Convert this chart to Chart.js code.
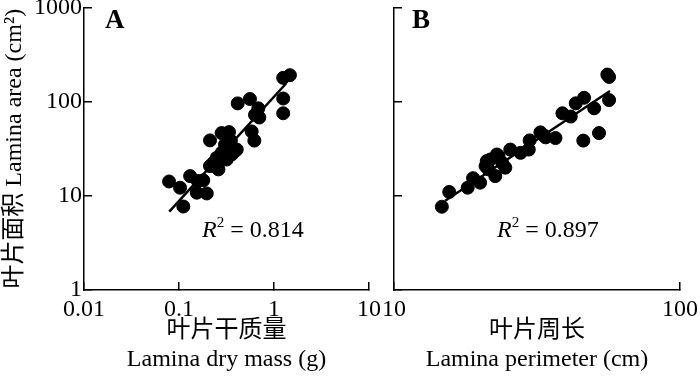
<!DOCTYPE html>
<html>
<head>
<meta charset="utf-8">
<script src="https://cdn.jsdelivr.net/npm/chart.js@4.4.1/dist/chart.umd.min.js"></script>
<style>
  body { margin: 0; background: #fff; }
  #wrap { position: relative; width: 700px; height: 376px; overflow: hidden; }
  canvas { position: absolute; top: 0; }
</style>
</head>
<body>
<div id="wrap">
  <canvas id="chartA" width="392" height="376" style="left:0"></canvas>
  <canvas id="chartB" width="330" height="376" style="left:370px"></canvas>
</div>
<script>
// panel A: lamina dry mass (g) vs lamina area (cm2)
const massA = [0.0786, 0.1026, 0.131, 0.111, 0.154, 0.196, 0.18, 0.157, 0.212, 0.26,
  0.249, 0.281, 0.318, 0.359, 0.405, 0.344, 0.305, 0.212, 0.281, 0.336,
  0.352, 0.582, 0.621, 0.415, 0.558, 0.684, 0.631, 0.70, 1.25, 1.25,
  1.25, 1.47, 0.27, 0.23, 0.388];
const areaA = [14.2, 12.2, 16.2, 7.7, 10.8, 10.6, 14.6, 14.4, 20.7, 19.1,
  25.3, 28.6, 24.3, 27.5, 31, 33.6, 35, 38.8, 46.4, 47.5,
  38.6, 48.3, 38.6, 95.9, 106.7, 85, 72.4, 67.9, 108, 75.3,
  179, 191, 23.4, 22.4, 29.8];
const fitA = [[0.079, 6.8], [1.34, 156]];

// panel B: lamina perimeter (cm) vs lamina area (cm2)
const perimB = [14.7, 15.6, 18.1, 18.9, 20.0, 20.9, 21.7, 22.6, 23.2, 24.5,
  23.9, 21.4, 25.5, 27.7, 29.6, 29.8, 32.5, 33.9, 56.5, 55.7,
  56.5, 50.1, 46.2, 43.2, 38.8, 41.5, 33.4, 36.7, 45.9, 52.1,
  22.9, 21.1];
const areaB = [7.66, 11.0, 12.2, 15.4, 13.8, 20.7, 24.3, 16.2, 26.4, 19.9,
  22.4, 19.1, 31, 28.6, 31, 38.8, 47.2, 41.8, 183, 194,
  104, 85, 110, 96, 75.3, 69.5, 43.9, 41.1, 38.6, 46.4,
  27.5, 23.4];
const fitB = [[15.1, 8.85], [56.9, 129.6]];

const yTicks = [1, 10, 100, 1000];
const xTicksA = [0.01, 0.1, 1, 10];
const xTicksB = [10, 100];

const SERIF = "'Liberation Serif', 'Times New Roman', 'Noto Sans CJK SC', serif";

function pts(xs, ys) {
  return xs.map((x, i) => ({ x: x, y: ys[i] }));
}

function setTicks(values) {
  return (scale) => {
    scale.ticks = values.map((v) => ({ value: v }));
  };
}

function noPad(scale) {
  scale.paddingTop = 0;
  scale.paddingBottom = 0;
  scale.paddingLeft = 0;
  scale.paddingRight = 0;
}

// R² note and panel letter
const notes = {
  id: "notes",
  afterDraw(chart, args, opts) {
    const ctx = chart.ctx;
    ctx.save();
    ctx.fillStyle = "#000";
    ctx.textBaseline = "alphabetic";
    ctx.font = "bold 27px " + SERIF;
    ctx.fillText(opts.letter, opts.letterX, 28);
    let x = opts.rX;
    const y = 237;
    ctx.font = "italic 24px " + SERIF;
    ctx.fillText("R", x, y);
    x += ctx.measureText("R").width;
    ctx.font = "15px " + SERIF;
    ctx.fillText("2", x, y - 10);
    x += ctx.measureText("2").width;
    ctx.font = "24px " + SERIF;
    ctx.fillText(" = " + opts.r2, x, y);
    ctx.restore();
  },
};

function makeChart(id, xs, ys, fit, xMin, xMax, xTicks, cfg) {
  return new Chart(document.getElementById(id), {
    type: "scatter",
    data: {
      datasets: [
        {
          data: pts(xs, ys),
          backgroundColor: "#000",
          borderColor: "#000",
          pointRadius: 6.5,
          pointHoverRadius: 6.5,
          order: 2,
        },
        {
          data: fit.map((p) => ({ x: p[0], y: p[1] })),
          showLine: true,
          borderColor: "#000",
          borderWidth: 2.5,
          pointRadius: 0,
          order: 1,
        },
      ],
    },
    options: {
      responsive: false,
      animation: false,
      layout: { padding: { top: 6, right: cfg.padRight, left: 0, bottom: 0 } },
      plugins: {
        legend: { display: false },
        tooltip: { enabled: false },
        notes: cfg.notes,
      },
      scales: {
        x: {
          type: "logarithmic",
          min: xMin,
          max: xMax,
          afterBuildTicks: setTicks(xTicks),
          afterFit: (s) => { s.height = 86; noPad(s); },
          border: { display: true, color: "#000", width: 1.5 },
          grid: { drawOnChartArea: false, drawTicks: true, tickLength: -8, color: "#000", lineWidth: 1.5 },
          ticks: {
            padding: 13,
            maxRotation: 0,
            autoSkip: false,
            color: "#000",
            font: { family: SERIF, size: 24 },
            callback: (v) => String(v),
          },
          title: {
            display: true,
            text: cfg.xTitle,
            color: "#000",
            font: { family: SERIF, size: 24, lineHeight: 29 / 24 },
            padding: { top: 0, bottom: 2 },
          },
        },
        y: {
          type: "logarithmic",
          min: 1,
          max: 1000,
          afterBuildTicks: setTicks(yTicks),
          afterFit: (s) => { s.width = cfg.yWidth; noPad(s); },
          border: { display: true, color: "#000", width: 1.5 },
          grid: { drawOnChartArea: false, drawTicks: true, tickLength: -8, color: "#000", lineWidth: 1.5 },
          ticks: {
            padding: 10,
            autoSkip: false,
            color: "#000",
            font: { family: SERIF, size: 24 },
            callback: cfg.yLabels ? (v) => String(v) : () => "",
          },
          title: {
            display: cfg.yLabels,
            text: "叶片面积 Lamina area (cm²)",
            color: "#000",
            font: { family: SERIF, size: 24 },
            padding: { top: 0, bottom: 0 },
          },
        },
      },
    },
    plugins: [notes],
  });
}

makeChart("chartA", massA, areaA, fitA, 0.01, 10, xTicksA, {
  padRight: 23,
  yWidth: 84,
  yLabels: true,
  xTitle: ["叶片干质量", "Lamina dry mass (g)"],
  notes: { letter: "A", letterX: 105, rX: 202, r2: "0.814" },
});

makeChart("chartB", perimB, areaB, fitB, 10, 100, xTicksB, {
  padRight: 20,
  yWidth: 24,
  yLabels: false,
  xTitle: ["叶片周长", "Lamina perimeter (cm)"],
  notes: { letter: "B", letterX: 42, rX: 127, r2: "0.897" },
});
</script>
</body>
</html>
